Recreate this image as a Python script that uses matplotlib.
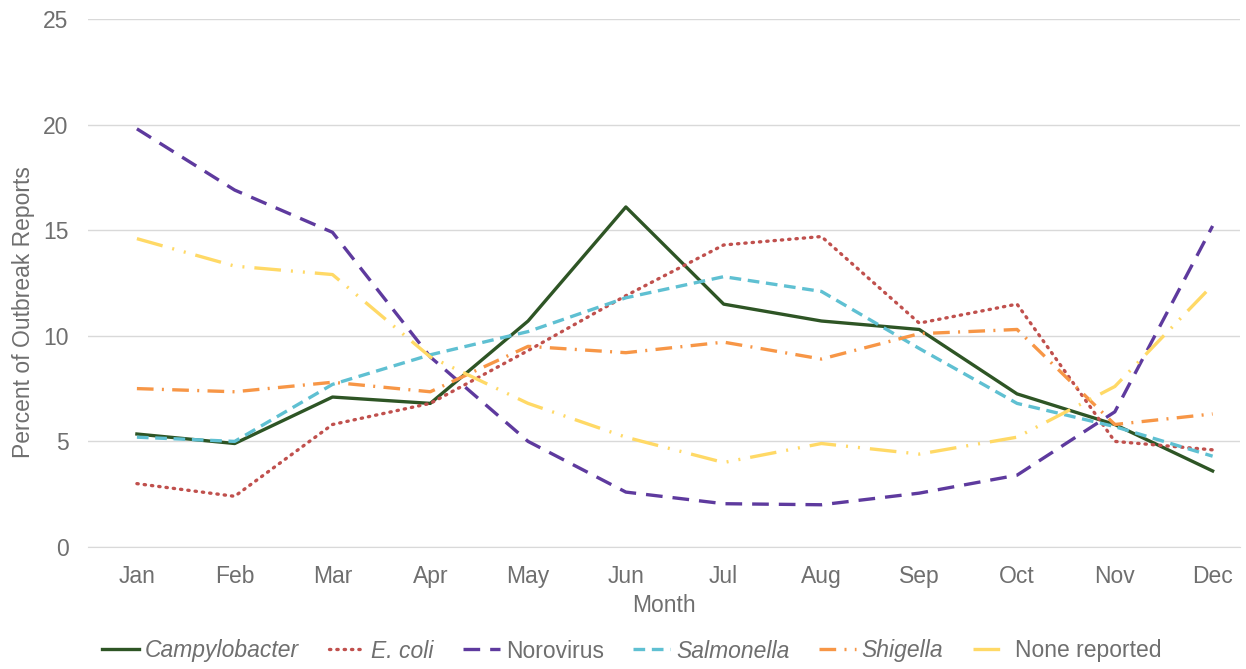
import matplotlib
matplotlib.use("Agg")
import matplotlib.pyplot as plt

months = ["Jan", "Feb", "Mar", "Apr", "May", "Jun", "Jul", "Aug", "Sep", "Oct", "Nov", "Dec"]
campylobacter = [5.35, 4.9, 7.1, 6.8, 10.7, 16.1, 11.5, 10.7, 10.3, 7.25, 5.8, 3.6]
e_coli = [3.0, 2.4, 5.8, 6.8, 9.3, 11.9, 14.3, 14.7, 10.6, 11.5, 5.0, 4.6]
norovirus = [19.8, 16.9, 14.9, 9.0, 5.0, 2.6, 2.05, 2.0, 2.55, 3.4, 6.4, 15.2]
salmonella = [5.2, 5.0, 7.7, 9.1, 10.2, 11.8, 12.8, 12.1, 9.4, 6.8, 5.7, 4.3]
shigella = [7.5, 7.35, 7.8, 7.35, 9.5, 9.2, 9.7, 8.9, 10.1, 10.3, 5.8, 6.3]
none_reported = [14.6, 13.3, 12.9, 9.0, 6.8, 5.2, 4.0, 4.9, 4.4, 5.2, 7.6, 12.4]

plt.rcParams["font.family"] = ["Liberation Sans", "DejaVu Sans"]
GREY = "#6F6F6F"
FS = 16.5

fig = plt.figure(figsize=(12.46, 6.69), dpi=100)
ax = fig.add_axes([88 / 1246, 1 - 547 / 669, (1240 - 88) / 1246, (547 - 19) / 669])

x = list(range(len(months)))
lw = 2.4
ax.plot(x, campylobacter, color="#2E5525", lw=lw, label="Campylobacter")
ax.plot(x, e_coli, color="#C0504D", lw=lw, linestyle=(0, (0.4, 1.8)), dash_capstyle="round",
        label="E. coli")
ax.plot(x, norovirus, color="#5E3A9E", lw=lw, linestyle=(0, (5, 3)), label="Norovirus")
ax.plot(x, salmonella, color="#5FC0D2", lw=lw, linestyle=(0, (3.5, 2)), label="Salmonella")
ax.plot(x, shigella, color="#F79646", lw=lw, linestyle=(0, (5, 2.5, 0.6, 2.5)), label="Shigella")
ax.plot(x, none_reported, color="#FFD966", lw=lw, linestyle=(0, (8, 3, 0.6, 3, 0.6, 3)),
        label="None reported")

ax.set_xlim(-0.5, 11.28)
ax.set_ylim(0, 25)
ax.set_yticks([0, 5, 10, 15, 20, 25])
ax.set_xticks(x)
ax.set_xticklabels(months)
ax.yaxis.grid(True, color="#D9D9D9", lw=1)
ax.set_axisbelow(True)
for s in ["top", "right", "left"]:
    ax.spines[s].set_visible(False)
ax.spines["bottom"].set_color("#D9D9D9")
ax.tick_params(length=0, colors=GREY, labelsize=FS)
ax.tick_params(axis="x", pad=13)
ax.tick_params(axis="y", pad=14)
ax.set_xlabel("Month", color=GREY, fontsize=FS, labelpad=4)
ax.set_ylabel("Percent of Outbreak Reports", color=GREY, fontsize=FS)
ax.yaxis.set_label_coords(-0.046, 0.445)

leg = fig.legend(loc="center", bbox_to_anchor=(632 / 1246, 1 - 651 / 669), ncol=6, frameon=False,
                 fontsize=FS, handlelength=1.6, handletextpad=0.25, columnspacing=1.3)
for t in leg.get_texts():
    t.set_color(GREY)
    if t.get_text() not in ("Norovirus", "None reported"):
        t.set_style("italic")

fig.savefig("out.png", dpi=100)
